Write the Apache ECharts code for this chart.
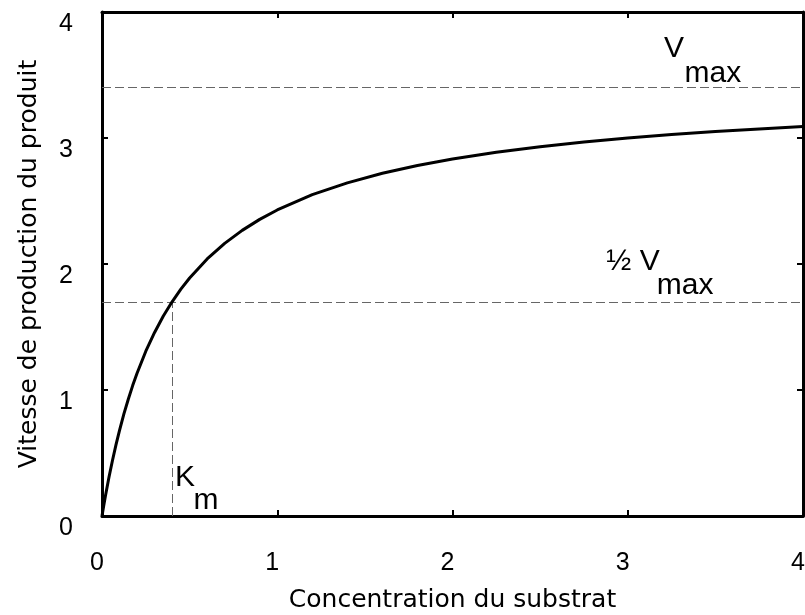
<!DOCTYPE html>
<html><head><meta charset="utf-8">
<script src="https://cdn.jsdelivr.net/npm/echarts@6/dist/echarts.min.js"></script>
<style>html,body{margin:0;padding:0;background:#fff}#c{width:805px;height:615px}</style>
</head><body><div id="c"></div>
<script>
// Substrate concentration (x) and product rate (y)
const substrate = [0, 0.01, 0.02, 0.04, 0.06, 0.08, 0.1, 0.125, 0.15, 0.175, 0.2, 0.25, 0.3, 0.35, 0.4, 0.45, 0.5, 0.6, 0.7, 0.8, 0.9, 1.0, 1.2, 1.4, 1.6, 1.8, 2.0, 2.25, 2.5, 2.75, 3.0, 3.25, 3.5, 3.75, 4.0];
const rate      = [0, 0.083, 0.162, 0.309, 0.443, 0.567, 0.68, 0.81, 0.927, 1.035, 1.133, 1.308, 1.457, 1.587, 1.70, 1.80, 1.889, 2.04, 2.164, 2.267, 2.354, 2.429, 2.55, 2.644, 2.72, 2.782, 2.833, 2.887, 2.931, 2.968, 3.0, 3.027, 3.051, 3.072, 3.091];
const vmax = 3.4;
const halfVmax = 1.7;
const km = 0.4;
const xTicks = [0, 1, 2, 3, 4];
const yTicks = [0, 1, 2, 3, 4];

const chart = echarts.init(document.getElementById('c'));
const lblFont = '"Liberation Sans", Arial, sans-serif';
const nameFont = '"DejaVu Sans", sans-serif';
const axisCommon = {
  min: 0, max: 4, interval: 1,
  axisLine: { show: true, onZero: false, lineStyle: { color: '#000', width: 3 } },
  axisTick: { show: true, inside: true, length: 6, lineStyle: { color: '#000', width: 2 } },
  splitLine: { show: false }
};
const textMark = (txt, x, y, size) => ({
  coord: [x, y], symbolSize: 0,
  label: { show: true, position: 'inside', formatter: txt, color: '#000', fontFamily: lblFont, fontSize: size }
});
chart.setOption({
  animation: false,
  grid: { left: 102, right: 2, top: 12, bottom: 99, containLabel: false, outerBoundsMode: 'none' },
  xAxis: [
    Object.assign({}, axisCommon, {
      type: 'value', position: 'bottom',
      name: 'Concentration du substrat', nameLocation: 'middle', nameGap: 72,
      nameTextStyle: { fontFamily: nameFont, fontSize: 25, color: '#000' },
      axisLabel: { margin: 35, fontFamily: lblFont, fontSize: 25, color: '#000', padding: [0, 10, 0, 0],
        formatter: v => xTicks.includes(v) ? String(v) : '' }
    }),
    Object.assign({}, axisCommon, { type: 'value', position: 'top', axisLabel: { show: false } })
  ],
  yAxis: [
    Object.assign({}, axisCommon, {
      type: 'value', position: 'left',
      name: 'Vitesse de production du produit', nameLocation: 'middle', nameGap: 60,
      nameTextStyle: { fontFamily: nameFont, fontSize: 25, color: '#000' },
      axisLabel: { margin: 29, fontFamily: lblFont, fontSize: 25, color: '#000', verticalAlign: 'top',
        formatter: v => yTicks.includes(v) ? String(v) : '' }
    }),
    Object.assign({}, axisCommon, { type: 'value', position: 'right', axisLabel: { show: false } })
  ],
  series: [{
    type: 'line', xAxisIndex: 0, yAxisIndex: 0,
    data: substrate.map((s, i) => [s, rate[i]]),
    smooth: false, showSymbol: false, symbol: 'none',
    lineStyle: { color: '#000', width: 3, join: 'round' },
    z: 5,
    markLine: {
      silent: true, symbol: 'none', label: { show: false },
      lineStyle: { color: '#666', width: 1, type: [9, 4] },
      data: [
        [{ coord: [0, vmax] }, { coord: [4, vmax] }],
        [{ coord: [0, halfVmax] }, { coord: [4, halfVmax] }],
        [{ coord: [km, 0] }, { coord: [km, halfVmax] }]
      ]
    },
    markPoint: {
      silent: true, symbol: 'circle',
      data: [
        textMark('V', 3.264, 3.706, 30),
        textMark('max', 3.486, 3.51, 30),
        textMark('½ V', 3.03, 2.016, 30),
        textMark('max', 3.327, 1.83, 30),
        textMark('K', 0.474, 0.30, 30),
        textMark('m', 0.593, 0.12, 30)
      ]
    }
  }]
});
</script></body></html>
